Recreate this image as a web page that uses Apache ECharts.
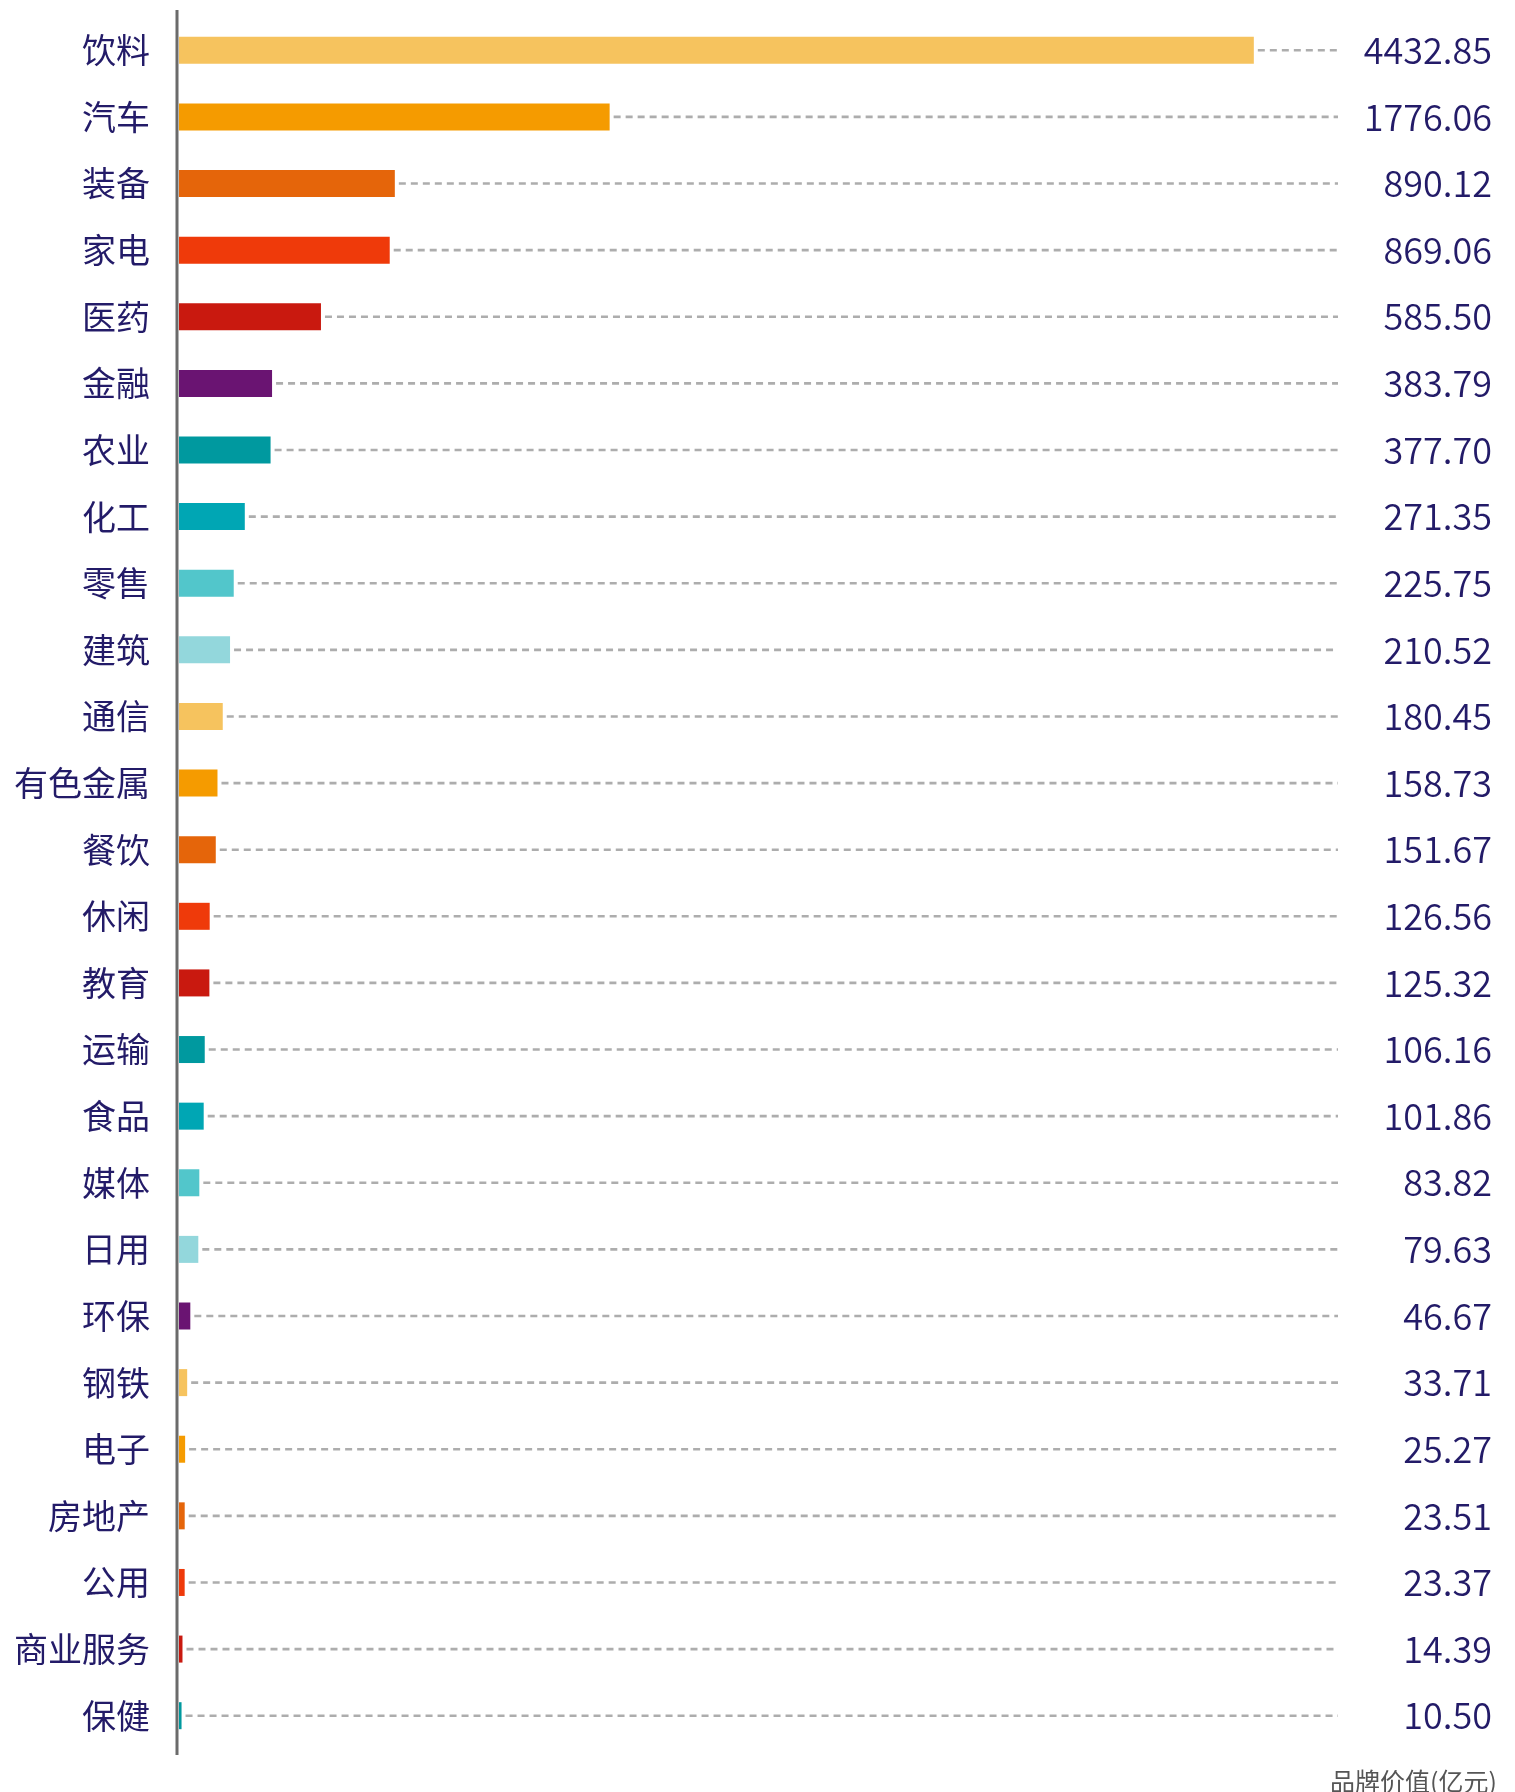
<!DOCTYPE html>
<html>
<head>
<meta charset="utf-8">
<style>
  html, body { margin: 0; padding: 0; background: #fff; }
  #chart { width: 1515px; height: 1792px; }
</style>
<script src="https://cdn.jsdelivr.net/npm/echarts@6/dist/echarts.min.js"></script>
</head>
<body>
<div id="chart"></div>
<script>
// Industry brand value (100 million CNY), sorted from largest to smallest
const industries = ['饮料','汽车','装备','家电','医药','金融','农业','化工','零售','建筑',
  '通信','有色金属','餐饮','休闲','教育','运输','食品','媒体','日用','环保',
  '钢铁','电子','房地产','公用','商业服务','保健'];
const brandValues = [4432.85,1776.06,890.12,869.06,585.50,383.79,377.70,271.35,225.75,210.52,
  180.45,158.73,151.67,126.56,125.32,106.16,101.86,83.82,79.63,46.67,
  33.71,25.27,23.51,23.37,14.39,10.50];
const unitLabel = '品牌价值(亿元)';

// Bar colours, one per industry
const C = {
  sand: '#F6C35E', orange: '#F59B00', amber: '#E5650A', vermilion: '#EF3A0A', red: '#C9190F',
  plum: '#6A1472', teal: '#00999F', cyan: '#00A6B4', aqua: '#52C6CB', mist: '#93D7DC'
};
const barColors = [
  C.sand, C.orange, C.amber, C.vermilion, C.red, C.plum, C.teal, C.cyan, C.aqua, C.mist,
  C.sand, C.orange, C.amber, C.vermilion, C.red, C.teal, C.cyan, C.aqua, C.mist, C.plum,
  C.sand, C.orange, C.amber, C.vermilion, C.red, C.teal
];

const navy = '#231B68';
const axisMax = 4780;
const textFont = '"Noto Sans CJK SC", "Noto Sans", sans-serif';
const numFont = '"Noto Sans CJK SC", "Noto Sans", sans-serif';

const chart = echarts.init(document.getElementById('chart'), null, { renderer: 'canvas' });

chart.setOption({
  backgroundColor: '#ffffff',
  animation: false,
  title: {
    text: unitLabel,
    right: 13,
    top: 1764,
    textStyle: { fontFamily: textFont, fontSize: 25, fontWeight: 'normal', color: '#555555' }
  },
  // vertical baseline, running a little past the first and last rows
  graphic: [{
    type: 'line',
    z: 10,
    shape: { x1: 177, y1: 10, x2: 177, y2: 1755 },
    style: { stroke: '#6b6b6b', lineWidth: 3 }
  }],
  grid: { left: 179, right: 177, top: 17, bottom: 43, containLabel: false },
  xAxis: {
    type: 'value',
    min: 0,
    max: axisMax,
    show: false
  },
  yAxis: [
    {
      type: 'category',
      data: industries,
      inverse: true,
      axisLine: { show: false },
      axisTick: { show: false },
      axisLabel: { margin: 29, fontFamily: textFont, fontSize: 34, color: navy }
    },
    {
      type: 'category',
      data: industries,
      inverse: true,
      position: 'right',
      axisLine: { show: false },
      axisTick: { show: false },
      axisLabel: {
        margin: 154,
        align: 'right',
        fontFamily: numFont,
        fontSize: 36,
        fontWeight: 350,
        color: navy,
        formatter: (v, i) => brandValues[i].toFixed(2)
      }
    }
  ],
  series: [
    {
      // dashed leader from each bar's end to the right edge of the plot
      type: 'custom',
      yAxisIndex: 0,
      z: 1,
      data: brandValues.map((v, i) => [v, i]),
      renderItem: function (params, api) {
        const start = api.coord([api.value(0), api.value(1)]);
        const end = api.coord([axisMax, api.value(1)]);
        return {
          type: 'line',
          shape: { x1: start[0] + 4, y1: start[1], x2: end[0], y2: end[1] },
          style: { stroke: '#adadad', lineWidth: 2.6, lineDash: [7, 5] }
        };
      }
    },
    {
      type: 'bar',
      yAxisIndex: 0,
      z: 2,
      barWidth: 27,
      data: brandValues.map((v, i) => ({ value: v, itemStyle: { color: barColors[i] } }))
    }
  ]
});
</script>
</body>
</html>
